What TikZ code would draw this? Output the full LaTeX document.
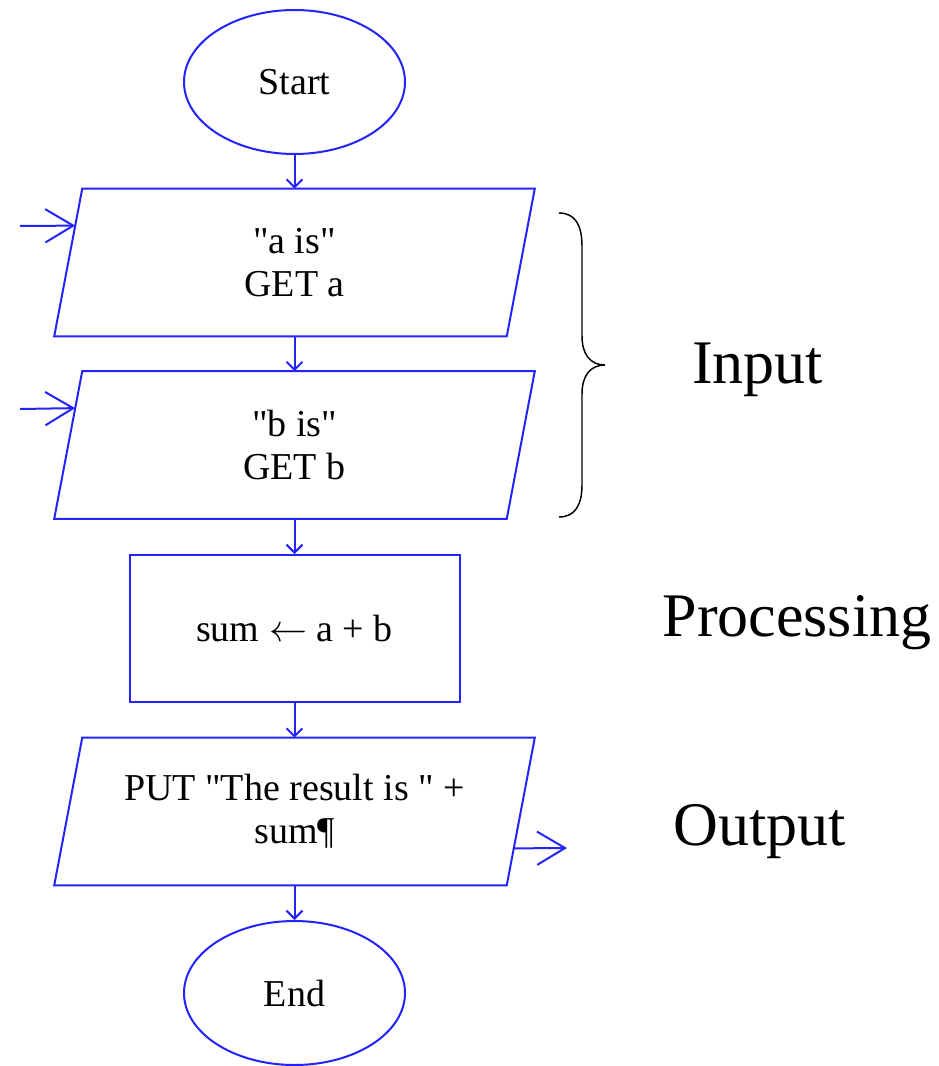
\RequirePackage{fix-cm}
\documentclass[tikz,border=0pt]{standalone}
\usepackage{fontspec}
\setmainfont{Liberation Serif}[Ligatures=TeXOff]
\usetikzlibrary{shapes.geometric,arrows.meta,calc}
\definecolor{flowblue}{RGB}{35,35,250}
\tikzset{
  boxtext/.style={font=\fontsize{28.5}{32.25}\selectfont, text=black, align=center, inner sep=0pt},
  term/.style={boxtext, ellipse, draw=flowblue, line width=1.5pt, minimum width=165.75pt, minimum height=108pt},
  iobox/.style={boxtext, rectangle, minimum width=339pt, minimum height=110.25pt},
  procbox/.style={boxtext, rectangle, draw=flowblue, line width=1.5pt, minimum width=247.5pt, minimum height=110.25pt},
  ioline/.style={draw=flowblue, line width=1.5pt, line join=miter},
  flow/.style={draw=flowblue, line width=1.5pt, -{Straight Barb[length=6pt,width=12pt]}},
  feed/.style={draw=flowblue, line width=1.5pt, -{Straight Barb[length=21pt,width=25pt]}},
  sidelabel/.style={font=\fontsize{46.5}{52}\selectfont, text=black, inner sep=0pt, anchor=base},
}
\begin{document}
\begin{tikzpicture}[x=0.75pt,y=-0.75pt]
\useasboundingbox (0,0) rectangle (938,1066);

% terminals and process steps
\node[term] (start) at (294.5,82) {Start};
\node[iobox] (geta) at (294.5,262.5) {"a is"\\GET a};
\node[iobox] (getb) at (294.5,445) {"b is"\\GET b};
\node[procbox] (sum) at (294.5,628.5) {sum $\leftarrow$ a + b};
\node[iobox] (put) at (294.5,811.5) {PUT "The result is " +\\sum¶};
\node[term] (end) at (294.5,993) {End};

% slanted input/output boxes
\foreach \n in {geta,getb,put}{
  \path ([xshift=10.5pt]\n.north west) coordinate (\n-tl)
        ([xshift=10.5pt]\n.north east) coordinate (\n-tr)
        ([xshift=-10.5pt]\n.south east) coordinate (\n-br)
        ([xshift=-10.5pt]\n.south west) coordinate (\n-bl);
  \draw[ioline] (\n-tl) -- (\n-tr) -- (\n-br) -- (\n-bl) -- cycle;
}

% main flow
\draw[flow] (start.south) -- (geta.north);
\draw[flow] (geta.south) -- (getb.north);
\draw[flow] (getb.south) -- (sum.north);
\draw[flow] (sum.south) -- (put.north);
\draw[flow] (put.south) -- (end.north);

% data entering and leaving
\coordinate (fromA) at (20,226);
\coordinate (fromB) at (20,409);
\coordinate (toOut) at (567,848);
\draw[feed] (fromA) -- ($(geta-tl)!0.25!(geta-bl)$);
\draw[feed] (fromB) -- ($(getb-tl)!0.25!(getb-bl)$);
\draw[feed] ($(put-tr)!0.75!(put-br)$) -- (toOut);

% brace grouping the two input steps
\draw[black, line width=1.1pt]
  (559,213) .. controls (575,213) and (582,225) .. (582,246)
  -- (582,336) .. controls (582,354) and (590,365) .. (605,365)
  .. controls (590,365) and (582,376) .. (582,394)
  -- (582,485) .. controls (582,505) and (575,517) .. (559,517);

% stage labels
\node[sidelabel] (lblin) at (757.5,383) {Input};
\node[sidelabel] (lblproc) at (797,636) {Processing};
\node[sidelabel] (lblout) at (760,845) {Output};
\end{tikzpicture}
\end{document}
